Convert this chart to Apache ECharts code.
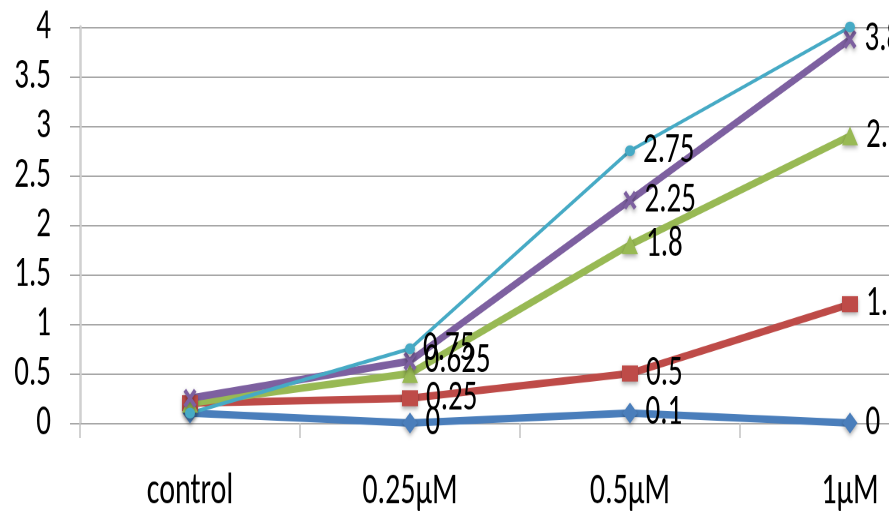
<!DOCTYPE html>
<html>
<head>
<meta charset="utf-8">
<script src="https://cdn.jsdelivr.net/npm/echarts@6/dist/echarts.min.js"></script>
<style>
  html, body { margin: 0; padding: 0; background: #fff; overflow: hidden; width: 889px; height: 518px; }
  /* the chart is drawn on a short canvas and stretched vertically, giving tall, narrow type */
  #chart { width: 960px; height: 345.34px; transform: scaleY(1.5); transform-origin: 0 0; }
</style>
</head>
<body>
<div id="chart"></div>
<script>
// Dose categories and measured responses per series
const categories = ['control', '0.25\u03bcM', '0.5\u03bcM', '1\u03bcM'];
const seriesBlue   = [0.1, 0, 0.1, 0];
const seriesRed    = [0.2, 0.25, 0.5, 1.2];
const seriesGreen  = [0.2, 0.5, 1.8, 2.9];
const seriesPurple = [0.25, 0.625, 2.25, 3.875];
const seriesCyan   = [0.1, 0.75, 2.75, 4];
const yTicks = { min: 0, max: 4, step: 0.5 };

const STRETCH = 1.5;
const FONT = 'Carlito, "Liberation Sans", Arial, sans-serif';

// indices whose value labels are not drawn
const hiddenLabels = {
  blue: [0], red: [0], green: [0, 1], purple: [0], cyan: [0, 3]
};

function pointData(values, hidden) {
  return values.map((v, i) => ({
    value: v,
    label: { show: hidden.indexOf(i) === -1 }
  }));
}

const crossPath = 'path://M2,0 L5,3.2 L8,0 L10,1.5 L6.6,5 L10,8.5 L8,10 L5,6.8 L2,10 L0,8.5 L3.4,5 L0,1.5 Z';

// marker sizes are on-screen width/height, pre-shrunk vertically
function makeSeries(name, values, hidden, color, width, symbol, w, h) {
  return {
    name: name,
    type: 'line',
    data: pointData(values, hidden),
    symbol: symbol,
    symbolSize: [w, h / STRETCH],
    showAllSymbol: true,
    lineStyle: { color: color, width: width },
    itemStyle: {
      color: color,
      shadowColor: 'rgba(0,0,0,0.35)',
      shadowBlur: 3,
      shadowOffsetY: 1.5
    },
    label: {
      position: 'right',
      distance: 8,
      color: '#000',
      fontFamily: FONT,
      fontSize: 29,
      formatter: p => String(p.value)
    },
    emphasis: { disabled: true },
    animation: false
  };
}

const chart = echarts.init(document.getElementById('chart'), null, { renderer: 'canvas', devicePixelRatio: 2 });
chart.setOption({
  backgroundColor: '#fff',
  animation: false,
  grid: { left: 80, top: 27 / STRETCH, width: 880, height: 396 / STRETCH, containLabel: false },
  xAxis: {
    type: 'category',
    data: categories,
    boundaryGap: true,
    axisLine: { show: true, lineStyle: { color: '#a6a6a6', width: 1 } },
    axisTick: { show: true, length: 15 / STRETCH, lineStyle: { color: '#c4c4c4', width: 1.5 } },
    axisLabel: { color: '#000', fontFamily: FONT, fontSize: 30, margin: 31, interval: 0 },
    splitLine: { show: false }
  },
  yAxis: {
    type: 'value',
    min: yTicks.min,
    max: yTicks.max,
    interval: yTicks.step,
    axisLine: { show: true, lineStyle: { color: '#d0d0d0', width: 2.5 } },
    axisTick: { show: true, length: 10, lineStyle: { color: '#a6a6a6', width: 1 } },
    axisLabel: { color: '#000', fontFamily: FONT, fontSize: 29, margin: 29 },
    splitLine: { show: true, lineStyle: { color: '#a6a6a6', width: 1 } }
  },
  series: [
    makeSeries('blue', seriesBlue, hiddenLabels.blue, '#4a7ebb', 5, 'diamond', 15, 21),
    makeSeries('red', seriesRed, hiddenLabels.red, '#be4b48', 5, 'rect', 16, 16),
    makeSeries('green', seriesGreen, hiddenLabels.green, '#98b954', 5, 'triangle', 16, 19),
    makeSeries('purple', seriesPurple, hiddenLabels.purple, '#7d60a0', 5, crossPath, 13, 19),
    makeSeries('cyan', seriesCyan, hiddenLabels.cyan, '#46aac5', 2.5, 'circle', 10, 11)
  ]
});
</script>
</body>
</html>
